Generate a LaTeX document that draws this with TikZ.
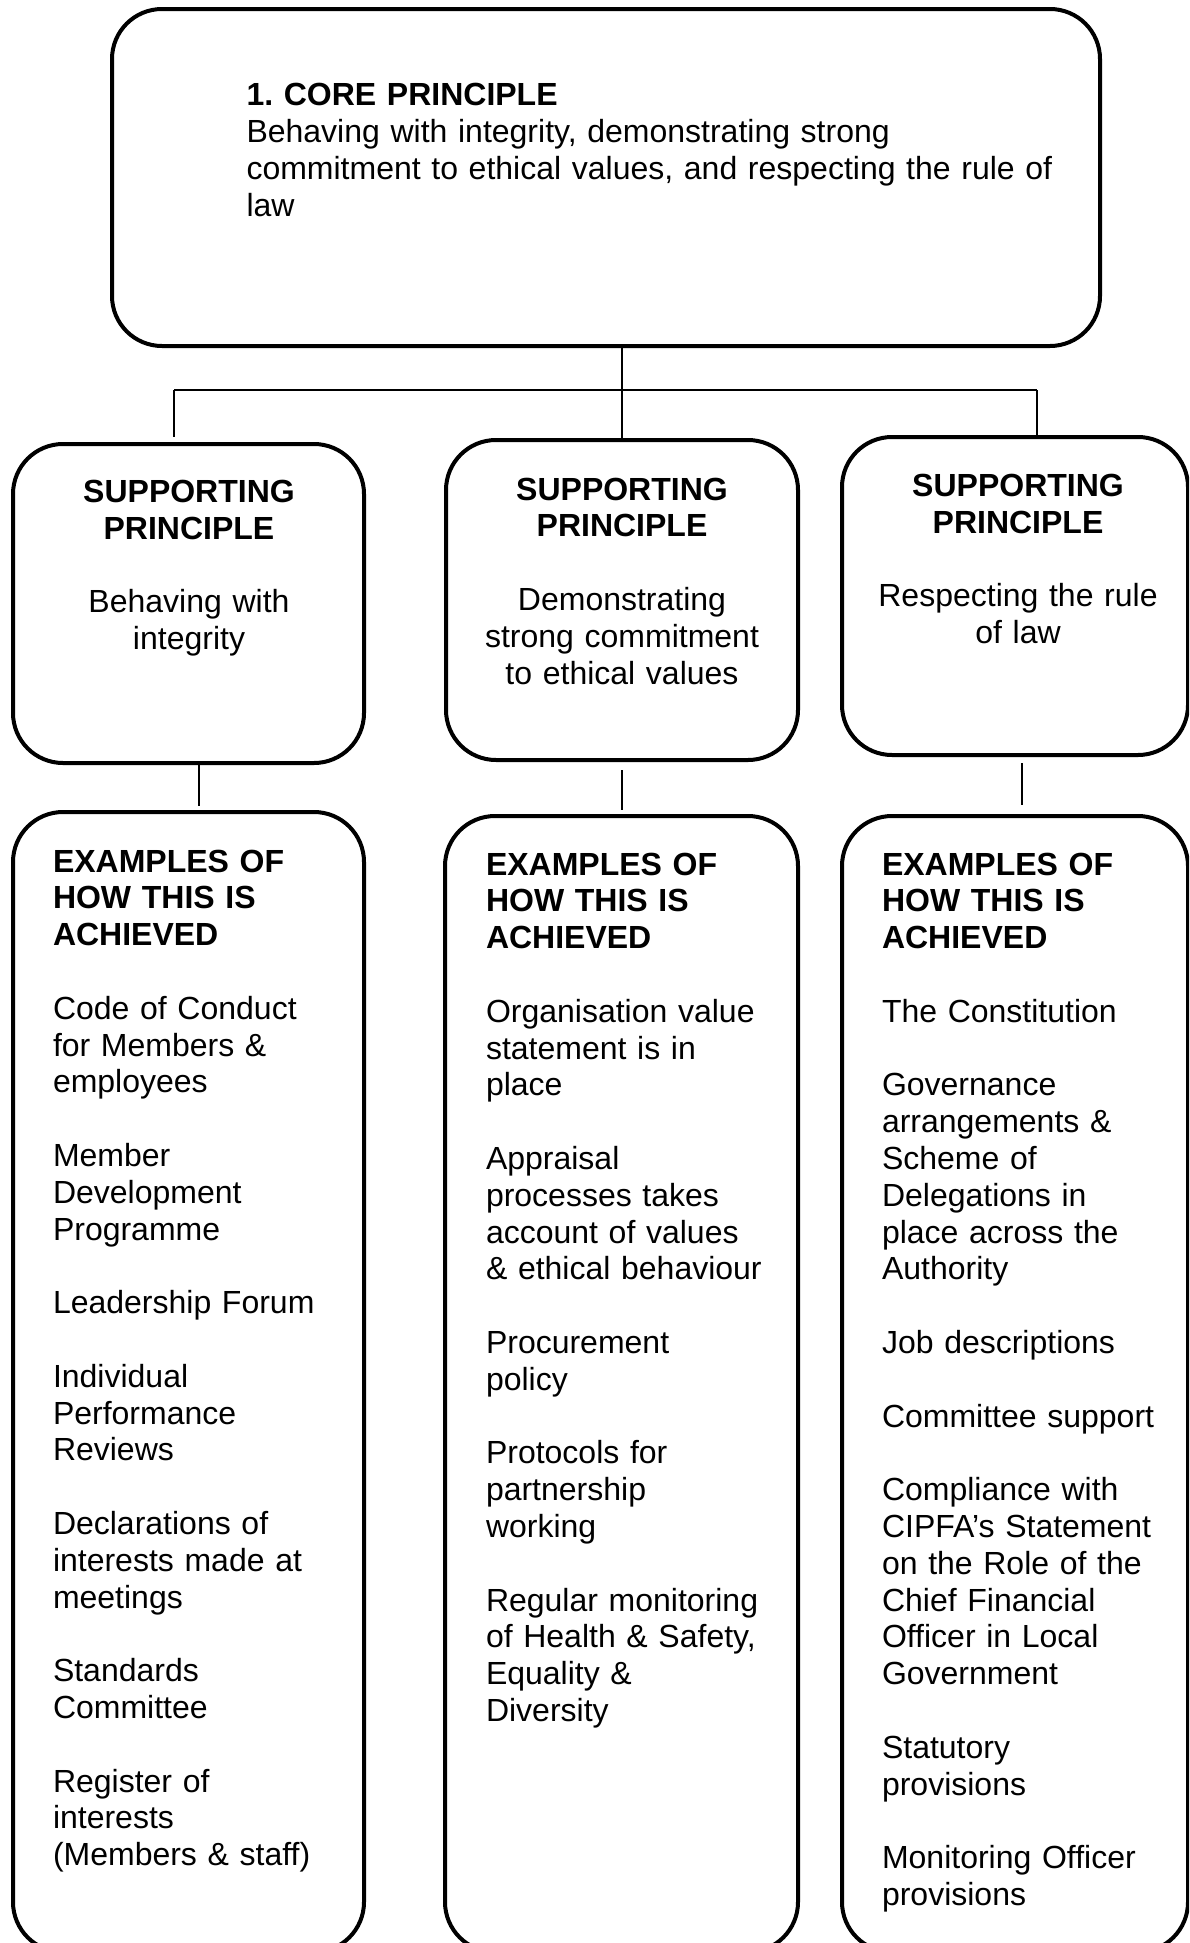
\documentclass[tikz,border=0pt]{standalone}
\usepackage{fontspec}
\setmainfont{Liberation Sans}
\frenchspacing
\begin{document}
\begin{tikzpicture}[x=0.5pt,y=-0.5pt,
  box/.style={draw, line width=2pt, rounded corners=25pt, inner sep=0pt, outer sep=0pt},
  conn/.style={draw, line width=0.8pt},
  txt/.style={inner sep=0pt, outer sep=0pt, font=\fontsize{16}{18.4}\selectfont, align=left, text width=150pt, anchor=base west},
  ctxt/.style={inner sep=0pt, outer sep=0pt, font=\fontsize{16}{18.4}\selectfont, align=center, text width=165pt, anchor=base}]
\useasboundingbox (0,0) rectangle (1189,1943);
\clip (0,0) rectangle (1189,1943);

% boxes
\node[box, minimum width=494pt, minimum height=168.5pt] (top) at (606,177.5) {};
\node[box, minimum width=175.5pt, minimum height=159.5pt] (sL) at (188.5,603.5) {};
\node[box, minimum width=176pt, minimum height=160pt] (sM) at (622,600) {};
\node[box, minimum width=173pt, minimum height=159pt] (sR) at (1015,596) {};
\node[box, minimum width=175.5pt, minimum height=570pt] (eL) at (188.5,1382) {};
\node[box, minimum width=176.5pt, minimum height=568pt] (eM) at (621.5,1384) {};
\node[box, minimum width=173pt, minimum height=568pt] (eR) at (1015,1384) {};

% texts
\node[txt, text width=420pt] (ttop) at (246.5,105.6) {\textbf{1. CORE PRINCIPLE}\\Behaving with integrity, demonstrating strong\\commitment to ethical values, and respecting the rule of\\law};

\node[ctxt] (tsL) at (189,502.5) {\textbf{SUPPORTING}\\\textbf{PRINCIPLE}\\[18.4pt]Behaving with\\integrity};
\node[ctxt] (tsM) at (622,500) {\textbf{SUPPORTING}\\\textbf{PRINCIPLE}\\[18.4pt]Demonstrating\\strong commitment\\to ethical values};
\node[ctxt] (tsR) at (1018,496.5) {\textbf{SUPPORTING}\\\textbf{PRINCIPLE}\\[18.4pt]Respecting the rule\\of law};

\node[txt] (teL) at (53,872) {\textbf{EXAMPLES OF}\\\textbf{HOW THIS IS}\\\textbf{ACHIEVED}\\[18.4pt]Code of Conduct\\for Members \&\\employees\\[18.4pt]Member\\Development\\Programme\\[18.4pt]Leadership Forum\\[18.4pt]Individual\\Performance\\Reviews\\[18.4pt]Declarations of\\interests made at\\meetings\\[18.4pt]Standards\\Committee\\[18.4pt]Register of\\interests\\(Members \& staff)};

\node[txt] (teM) at (486,875) {\textbf{EXAMPLES OF}\\\textbf{HOW THIS IS}\\\textbf{ACHIEVED}\\[18.4pt]Organisation value\\statement is in\\place\\[18.4pt]Appraisal\\processes takes\\account of values\\\& ethical behaviour\\[18.4pt]Procurement\\policy\\[18.4pt]Protocols for\\partnership\\working\\[18.4pt]Regular monitoring\\of Health \& Safety,\\Equality \&\\Diversity};

\node[txt] (teR) at (882,875) {\textbf{EXAMPLES OF}\\\textbf{HOW THIS IS}\\\textbf{ACHIEVED}\\[18.4pt]The Constitution\\[18.4pt]Governance\\arrangements \&\\Scheme of\\Delegations in\\place across the\\Authority\\[18.4pt]Job descriptions\\[18.4pt]Committee support\\[18.4pt]Compliance with\\CIPFA’s Statement\\on the Role of the\\Chief Financial\\Officer in Local\\Government\\[18.4pt]Statutory\\provisions\\[18.4pt]Monitoring Officer\\provisions};

% connectors
\coordinate (hL) at (174,390);
\coordinate (hR) at (1037,390);
\coordinate (dL) at (174,437);
\coordinate (dR) at (1037,435);
\draw[conn] (top.south -| sM.north) -- (sM.north);
\draw[conn] (hL) -- (hR);
\draw[conn] (hL) -- (dL);
\draw[conn] (hR) -- (dR);

\coordinate (uL) at (199,765);
\coordinate (lL) at (199,806);
\coordinate (uM) at (622,770);
\coordinate (lM) at (622,810);
\coordinate (uR) at (1022,763);
\coordinate (lR) at (1022,805);
\draw[conn] (uL) -- (lL);
\draw[conn] (uM) -- (lM);
\draw[conn] (uR) -- (lR);
\end{tikzpicture}
\end{document}
